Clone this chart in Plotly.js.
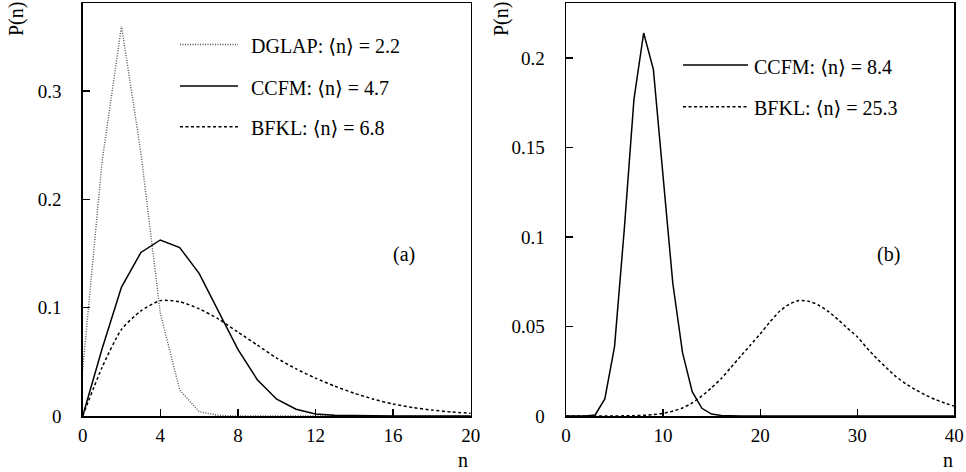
<!DOCTYPE html>
<html>
<head>
<meta charset="utf-8">
<script src="https://cdn.plot.ly/plotly-3.0.1.min.js"></script>
<style>
html,body{margin:0;padding:0;background:#fff;}
#chart{width:966px;height:472px;}
</style>
</head>
<body>
<div id="chart"></div>
<script>
// ---- Data ----
const nLeft = [0,1,2,3,4,5,6,7,8,9,10,11,12,13,14,15,16,17,18,19,20];
const dglapA = [0.043,0.235,0.36,0.243,0.095,0.024,0.004,0.0005,0,0,0,0,0,0,0,0,0,0,0,0,0];
const ccfmA  = [0,0.062,0.119,0.151,0.1625,0.1555,0.1317,0.097,0.0615,0.0335,0.0155,0.0062,0.0019,0.0006,0.0002,0.0001,0,0,0,0,0];
const bfklA  = [0,0.045,0.080,0.097,0.1065,0.1055,0.099,0.0895,0.0775,0.0655,0.0535,0.0435,0.035,0.0275,0.021,0.0155,0.011,0.0078,0.0055,0.0037,0.0025];

const nRight = [0,1,2,3,4,5,6,7,8,9,10,11,12,13,14,15,16,17,18,19,20,21,22,23,24,25,26,27,28,29,30,31,32,33,34,35,36,37,38,39,40];
const ccfmB = [0,0,0,0.0006,0.0095,0.0388,0.104,0.1769,0.2140,0.1937,0.132,0.0743,0.0355,0.0136,0.0043,0.0011,0.0003,0,0,0,0,0,0,0,0,0,0,0,0,0,0,0,0,0,0,0,0,0,0,0,0];
const bfklB = [0,0,0,0,0,0,0.0001,0.0002,0.0004,0.0008,0.0015,0.0027,0.0045,0.0073,0.0112,0.0158,0.021,0.0272,0.0335,0.0397,0.0458,0.0525,0.0585,0.0625,0.0645,0.0641,0.062,0.0585,0.054,0.049,0.0443,0.038,0.0322,0.027,0.022,0.018,0.0147,0.0118,0.0093,0.0073,0.0055];

const xTicksA = [0,4,8,12,16,20];
const yTicksA = [0,0.1,0.2,0.3];
const yTextA  = ["0","0.1","0.2","0.3"];
const xTicksB = [0,10,20,30,40];
const yTicksB = [0,0.05,0.1,0.15,0.2];
const yTextB  = ["0","0.05","0.1","0.15","0.2"];

const legendA = ["DGLAP: \u27E8n\u27E9 = 2.2","CCFM: \u27E8n\u27E9 = 4.7","BFKL: \u27E8n\u27E9 = 6.8"];
const legendB = ["CCFM: \u27E8n\u27E9 = 8.4","BFKL: \u27E8n\u27E9 = 25.3"];

// ---- Styling / layout ----
const W = 966, H = 472;
const px = x => x / W;
const py = y => 1 - y / H;
const FONT = "Liberation Serif, Times New Roman, DejaVu Serif, serif";

const dglapLine = {color:'#555', width:1.4, dash:'1px,1.5px'};
const ccfmLine  = {color:'#000', width:1.5};
const bfklLine  = {color:'#000', width:1.5, dash:'3px,2.5px'};

const traces = [
  {x:nLeft, y:dglapA, mode:'lines', line:dglapLine, xaxis:'x', yaxis:'y', hoverinfo:'none'},
  {x:nLeft, y:ccfmA, mode:'lines', line:ccfmLine, xaxis:'x', yaxis:'y', hoverinfo:'none'},
  {x:nLeft, y:bfklA, mode:'lines', line:Object.assign({shape:'spline', smoothing:0.6}, bfklLine), xaxis:'x', yaxis:'y', hoverinfo:'none'},
  {x:nRight, y:ccfmB, mode:'lines', line:ccfmLine, xaxis:'x2', yaxis:'y2', hoverinfo:'none'},
  {x:nRight, y:bfklB, mode:'lines', line:Object.assign({shape:'spline', smoothing:0.6}, bfklLine), xaxis:'x2', yaxis:'y2', hoverinfo:'none'}
];

const yDom = [py(416), py(3.3)];
const axCommon = {
  showgrid:false, zeroline:false, showline:true, mirror:true,
  linecolor:'#000', linewidth:1.5, ticks:'inside', ticklen:7, tickwidth:1.3, tickcolor:'#000',
  tickfont:{family:FONT, size:19, color:'#000'}, fixedrange:true
};

const layout = {
  width:W, height:H,
  margin:{l:0,r:0,t:0,b:0},
  paper_bgcolor:'#fff', plot_bgcolor:'#fff',
  showlegend:false,
  xaxis: Object.assign({}, axCommon, {domain:[px(82.7), px(470.7)], range:[0,20], tickvals:xTicksA, ticktext:xTicksA.map(String), anchor:'y', ticklabelstandoff:2}),
  yaxis: Object.assign({}, axCommon, {domain:yDom, range:[0,0.381], tickvals:yTicksA, ticktext:yTextA, anchor:'x', ticklabelstandoff:16}),
  xaxis2: Object.assign({}, axCommon, {domain:[px(566), px(954.3)], range:[0,40], tickvals:xTicksB, ticktext:xTicksB.map(String), anchor:'y2', ticklabelstandoff:2}),
  yaxis2: Object.assign({}, axCommon, {domain:yDom, range:[0,0.2306], tickvals:yTicksB, ticktext:yTextB, anchor:'x2', ticklabelstandoff:16}),
  shapes: [],
  annotations: []
};

function ann(text, x, y, opts) {
  return Object.assign({text:text, x:px(x), y:py(y), xref:'paper', yref:'paper', showarrow:false,
    xanchor:'left', yanchor:'middle', font:{family:FONT, size:20, color:'#000'}}, opts || {});
}
function legLine(x0, x1, y, line) {
  return {type:'line', xref:'paper', yref:'paper', x0:px(x0), x1:px(x1), y0:py(y), y1:py(y), line:line};
}

// Left legend
const legLinesA = [dglapLine, ccfmLine, bfklLine];
const legYA = [44.5, 86, 126.7];
legendA.forEach((t, i) => {
  layout.shapes.push(legLine(180, 238, legYA[i], legLinesA[i]));
  layout.annotations.push(ann(t, 249, legYA[i] + 1.5));
});
// Right legend
const legLinesB = [ccfmLine, bfklLine];
const legYB = [65, 106.7];
legendB.forEach((t, i) => {
  layout.shapes.push(legLine(683, 748, legYB[i], legLinesB[i]));
  layout.annotations.push(ann(t, 752, legYB[i] + 1.5));
});

// Panel labels
layout.annotations.push(ann('(a)', 404, 254, {xanchor:'center'}));
layout.annotations.push(ann('(b)', 888, 254, {xanchor:'center'}));
// Axis titles
layout.annotations.push(ann('P(n)', 16, 19, {xanchor:'center', textangle:-90}));
layout.annotations.push(ann('P(n)', 501, 19, {xanchor:'center', textangle:-90}));
layout.annotations.push(ann('n', 463, 460, {xanchor:'center'}));
layout.annotations.push(ann('n', 948, 460, {xanchor:'center'}));

Plotly.newPlot('chart', traces, layout, {staticPlot:true, displayModeBar:false});
</script>
</body>
</html>
